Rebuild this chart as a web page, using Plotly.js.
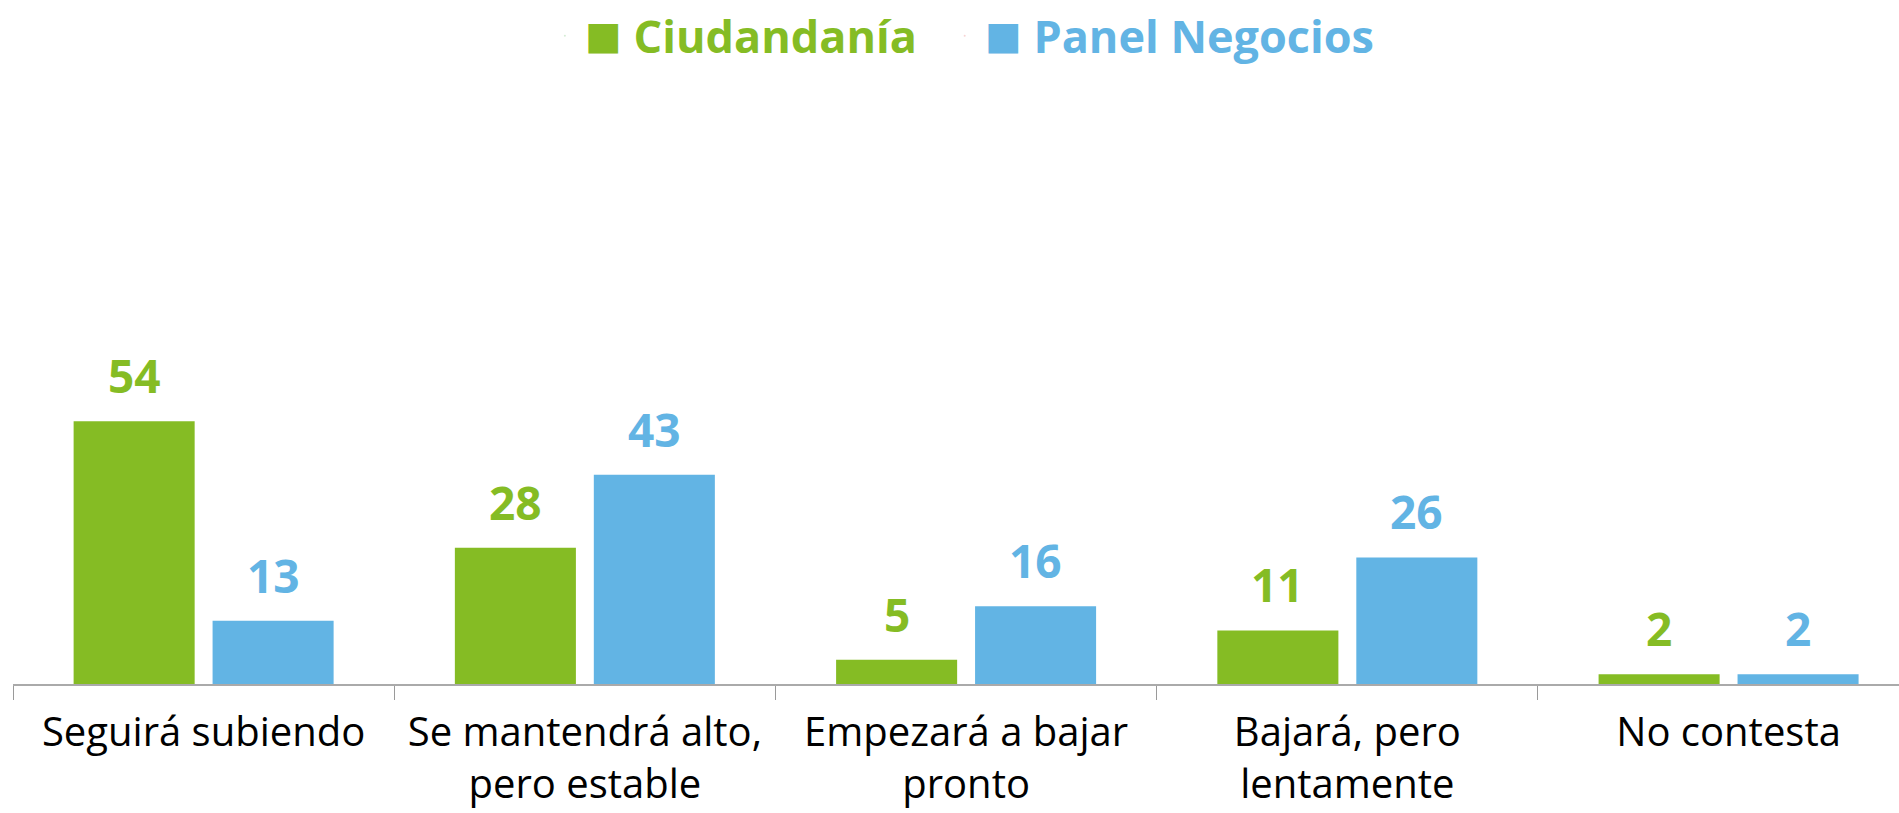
<!DOCTYPE html>
<html>
<head>
<meta charset="utf-8">
<script src="https://cdn.plot.ly/plotly-3.0.1.min.js"></script>
<style>html,body{margin:0;padding:0;background:#fff;}#chart{width:1899px;height:813px;}</style>
</head>
<body>
<div id="chart"></div>
<script>
const categories = ["Seguirá subiendo", "Se mantendrá alto,<br>pero estable", "Empezará a bajar<br>pronto", "Bajará, pero<br>lentamente", "No contesta"];
const seriesNames = ["Ciudandanía", "Panel Negocios"];
const ciudadania = [54, 28, 5, 11, 2];
const panelNegocios = [13, 43, 16, 26, 2];

const GREEN = "#85BC24";
const BLUE = "#62B4E4";
const FONT = "Open Sans, sans-serif";

const values = [ciudadania, panelNegocios];
const colors = [GREEN, BLUE];
const legendIds = ["legend", "legend2"];

const traces = [];
values.forEach((vals, i) => {
  traces.push({
    type: "bar",
    x: categories,
    y: vals,
    name: seriesNames[i],
    marker: {color: colors[i]},
    showlegend: false,
    hoverinfo: "skip"
  });
});
// legend entries (one legend per series)
values.forEach((vals, i) => {
  traces.push({
    type: "scatter",
    mode: "markers",
    x: [null], y: [null],
    marker: {opacity: 0, size: 1},
    name: `<span style="color:${colors[i]};font-family:Noto Sans CJK JP;font-size:37px">■</span><span style="color:${colors[i]}"> <b>${seriesNames[i]}</b></span>`,
    showlegend: true,
    legend: legendIds[i],
    hoverinfo: "skip"
  });
});

const annotations = [];
const shifts = [-69.5, 69.5];
values.forEach((vals, i) => {
  vals.forEach((v, j) => {
    annotations.push({
      x: categories[j], y: v, xref: "x", yref: "y",
      text: "<b>" + v + "</b>",
      showarrow: false,
      xanchor: "center", yanchor: "bottom",
      xshift: shifts[i], yshift: 13,
      font: {family: FONT, size: 46, color: colors[i]}
    });
  });
});

const legendBase = {
  orientation: "h",
  xanchor: "left",
  y: 1.1712, yanchor: "top",
  font: {family: FONT, size: 45},
  bgcolor: "rgba(0,0,0,0)"
};

const layout = {
  width: 1899, height: 813,
  margin: {l: 13, r: 0, t: 100, b: 129, pad: 0},
  paper_bgcolor: "#fff", plot_bgcolor: "#fff",
  barmode: "group",
  bargap: 0.271,
  bargroupgap: 0.129,
  font: {family: FONT, color: "#000"},
  xaxis: {
    type: "category",
    range: [-0.5, 4.447],
    tickson: "boundaries",
    ticks: "outside", ticklen: 14, tickcolor: "#9a9a9a", tickwidth: 1,
    showline: true, linecolor: "#aaaaaa", linewidth: 1.5,
    showgrid: false, zeroline: false,
    tickfont: {family: FONT, size: 40, color: "#000"},
    ticklabelstandoff: 12,
    fixedrange: true
  },
  yaxis: {
    range: [0, 120],
    visible: false,
    showgrid: false, zeroline: false,
    fixedrange: true
  },
  showlegend: true,
  legend: Object.assign({}, legendBase, {x: 0.282}),
  legend2: Object.assign({}, legendBase, {x: 0.494}),
  annotations: annotations
};

Plotly.newPlot("chart", traces, layout, {staticPlot: true, displayModeBar: false});
</script>
</body>
</html>
